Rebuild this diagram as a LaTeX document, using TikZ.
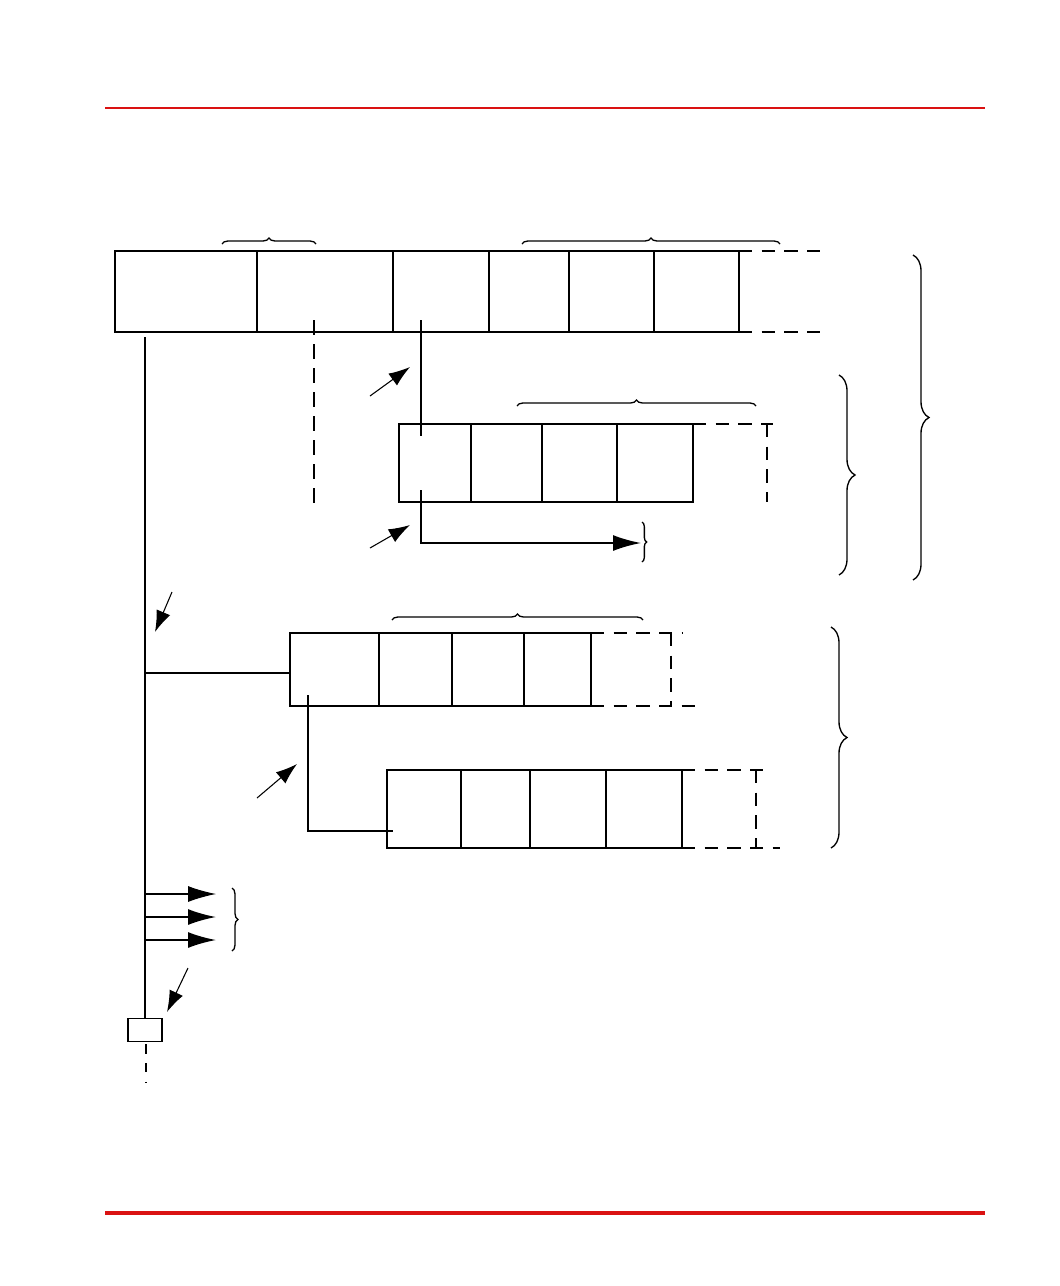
\documentclass[tikz,border=0pt]{standalone}
\usetikzlibrary{arrows.meta,decorations.pathreplacing}
\definecolor{rulered}{RGB}{218,18,18}
\def\px{0.75pt}
\tikzset{
  cell/.style={draw,line width=1.4pt,rectangle,inner sep=0pt,outer sep=0pt,anchor=north west},
  ptr/.style={line width=1.4pt},
  ext/.style={line width=1.4pt,dash pattern=on 10pt off 7pt},
  big/.style={-{Latex[length=21pt,width=12pt]}},
  note/.style={line width=0.8pt,-{Latex[length=16pt,width=11pt]}},
  brc/.style={decorate,line width=1pt,decoration={brace,amplitude=#1}}
}
\begin{document}
\begin{tikzpicture}[x=0.75pt,y=-0.75pt]
        \useasboundingbox (0,0) rectangle (1060,1286);
        \draw[rulered,line width=2.2pt] (105,108) -- (985,108);
        \draw[rulered,line width=3pt] (105,1213) -- (985,1213);

        \node[cell,minimum width=142*\px,minimum height=81*\px] (a1) at (115,251) {};
        \node[cell,minimum width=136*\px,minimum height=81*\px] (a2) at (257,251) {};
        \node[cell,minimum width=96*\px,minimum height=81*\px] (a3) at (393,251) {};
        \node[cell,minimum width=80*\px,minimum height=81*\px] (a4) at (489,251) {};
        \node[cell,minimum width=85*\px,minimum height=81*\px] (a5) at (569,251) {};
        \node[cell,minimum width=85*\px,minimum height=81*\px] (a6) at (654,251) {};
        \draw[ext] (a6.north east) -- ++(81,0);
        \draw[ext] (a6.south east) -- ++(81,0);

        \node[cell,minimum width=72*\px,minimum height=78*\px] (b1) at (399,424) {};
        \node[cell,minimum width=71*\px,minimum height=78*\px] (b2) at (471,424) {};
        \node[cell,minimum width=75*\px,minimum height=78*\px] (b3) at (542,424) {};
        \node[cell,minimum width=76*\px,minimum height=78*\px] (b4) at (617,424) {};
        \draw[ext] (b4.north east) -- ++(80,0);
        \draw[ext] (767,424) -- (767,502);

        \node[cell,minimum width=89*\px,minimum height=73*\px] (c1) at (290,633) {};
        \node[cell,minimum width=73*\px,minimum height=73*\px] (c2) at (379,633) {};
        \node[cell,minimum width=72*\px,minimum height=73*\px] (c3) at (452,633) {};
        \node[cell,minimum width=67*\px,minimum height=73*\px] (c4) at (524,633) {};
        \draw[ext] (c4.north east) -- ++(92,0);
        \draw[ext] (c4.south east) -- ++(109,0);
        \draw[ext] (671,633) -- (671,706);

        \node[cell,minimum width=74*\px,minimum height=78*\px] (d1) at (387,770) {};
        \node[cell,minimum width=69*\px,minimum height=78*\px] (d2) at (461,770) {};
        \node[cell,minimum width=76*\px,minimum height=78*\px] (d3) at (530,770) {};
        \node[cell,minimum width=76*\px,minimum height=78*\px] (d4) at (606,770) {};
        \draw[ext] (d4.north east) -- ++(83,0);
        \draw[ext] (d4.south east) -- ++(98,0);
        \draw[ext] (756,770) -- (756,848);

        \node[draw,line width=1.4pt,minimum width=34*\px,minimum height=23*\px,inner sep=0pt] (tail) at (145,1030) {};

        \coordinate (top) at (145,337);
        \coordinate (p1) at (421,320);
        \coordinate (p2) at (421,436);
        \coordinate (p3) at (421,490);
        \coordinate (p4) at (641,543);
        \coordinate (q1) at (314,320);
        \coordinate (q2) at (314,505);
        \coordinate (s1) at (145,673);
        \coordinate (s2) at (308,695);
        \coordinate (s3) at (393,831);
        \coordinate (e) at (146,1083);

        \draw[ptr] (top) -- (tail.north);
        \draw[line width=1pt,dash pattern=on 7pt off 7pt] (tail.south) ++(1,2) -- (e);
        \draw[line width=1pt,dash pattern=on 11pt off 7pt] (q1) -- (q2);
        \draw[ptr] (p1) -- (p2);
        \draw[ptr,big] (p3) |- (p4);
        \draw[line width=0.8pt] (s1) -- (s1 -| c1.west);
        \draw[ptr] (s2) |- (s3);

        \draw[line width=0.8pt,big] (145,894) -- (216,894);
        \draw[ptr,big] (145,917) -- (216,917);
        \draw[ptr,big] (145,940) -- (216,940);

        \draw[note] (370,396) -- (410,367);
        \draw[note] (370,548) -- (410,525);
        \draw[note] (172,592) -- (155,632);
        \draw[note] (257,798) -- (297,764);
        \draw[note] (188,968) -- (167,1012);

        \draw[brc=4.5pt] (222,244) -- (316,244);
        \draw[brc=4.5pt] (522,244) -- (780,244);
        \draw[brc=4.5pt] (517,406) -- (756,406);
        \draw[brc=4.5pt] (392,620) -- (643,620);
        \draw[brc=3.5pt] (642,522) -- (642,562);
        \draw[brc=4.5pt] (232,888) -- (232,951);
        \draw[brc=12pt] (913,255) -- (913,580);
        \draw[brc=12pt] (839,375) -- (839,575);
        \draw[brc=12pt] (831,627) -- (831,848);
      \end{tikzpicture}
\end{document}
